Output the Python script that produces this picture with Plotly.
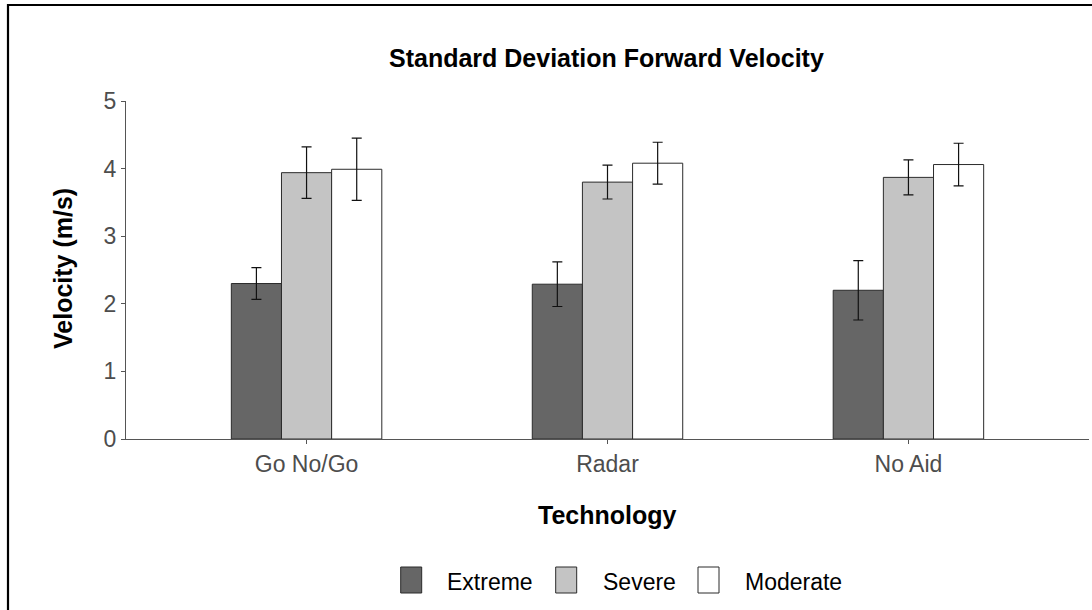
import plotly.graph_objects as go

# Data
technologies = ["Go No/Go", "Radar", "No Aid"]
conditions = ["Extreme", "Severe", "Moderate"]
extreme_mean = [2.30, 2.29, 2.20]
extreme_err = [0.235, 0.33, 0.44]
severe_mean = [3.94, 3.80, 3.87]
severe_err = [0.38, 0.25, 0.26]
moderate_mean = [3.99, 4.08, 4.06]
moderate_err = [0.46, 0.31, 0.315]
y_ticks = [0, 1, 2, 3, 4, 5]

means = [extreme_mean, severe_mean, moderate_mean]
errs = [extreme_err, severe_err, moderate_err]
fills = ["#666666", "#C4C4C4", "#FFFFFF"]

W, H = 1092, 610
L, R, T, B = 126, 1089, 101, 439  # plot area in pixels

def px(x):
    return (x - L) / (R - L)

def py(y):
    return (B - y) / (B - T)

fig = go.Figure()
for name, m, e, c in zip(conditions, means, errs, fills):
    fig.add_trace(go.Bar(
        x=technologies, y=m, name=name,
        marker=dict(color=c, line=dict(color="#2b2b2b", width=1)),
        error_y=dict(type="data", array=e, visible=True,
                     color="#111111", thickness=1.2, width=5),
        showlegend=False,
    ))

FONT = "Liberation Sans, Arial, sans-serif"

def label(text, x, y, size, **kw):
    return dict(text=text, x=px(x), y=py(y), xref="paper", yref="paper",
                showarrow=False, font=dict(family=FONT, size=size, color="#000000"), **kw)

annotations = [
    label("<b>Standard Deviation Forward Velocity</b>", 606.5, 58.5, 25,
          xanchor="center", yanchor="middle"),
    label("<b>Velocity (m/s)</b>", 63, 269, 25, textangle=-90,
          xanchor="center", yanchor="middle"),
    label("<b>Technology</b>", 607.5, 515, 25, xanchor="center", yanchor="middle"),
]

shapes = [
    # outer frame
    dict(type="rect", xref="paper", yref="paper",
         x0=px(8), x1=px(1110), y0=py(5), y1=py(640),
         line=dict(color="#000000", width=2.2), fillcolor="rgba(0,0,0,0)", layer="below"),
]

# legend keys and labels
key_x = [400.7, 555.7, 698.0]
text_x = [445.0, 601.0, 742.5]
for name, c, kx, tx in zip(conditions, fills, key_x, text_x):
    shapes.append(dict(type="rect", xref="paper", yref="paper",
                       x0=px(kx), x1=px(kx + 21), y0=py(567), y1=py(593),
                       line=dict(color="#2b2b2b", width=1), fillcolor=c))
    annotations.append(label(name, tx, 582, 23, xanchor="left", yanchor="middle"))

fig.update_layout(
    width=W, height=H,
    margin=dict(l=L, r=W - R, t=T, b=H - B, pad=0),
    paper_bgcolor="white", plot_bgcolor="white",
    barmode="group", bargap=0.5, bargroupgap=0,
    font=dict(family=FONT),
    annotations=annotations, shapes=shapes,
    xaxis=dict(
        range=[-0.6, 2.6], showgrid=False, zeroline=False,
        showline=True, linecolor="#555555", linewidth=1.2,
        ticks="outside", ticklen=4, tickcolor="#555555",
        tickfont=dict(family=FONT, size=23, color="#4D4D4D"),
    ),
    yaxis=dict(
        range=[0, 5], tickvals=y_ticks, showgrid=False, zeroline=False,
        showline=True, linecolor="#555555", linewidth=1.2,
        ticks="outside", ticklen=4, tickcolor="#555555",
        tickfont=dict(family=FONT, size=23, color="#4D4D4D"),
    ),
)

fig.write_html("out.html")
